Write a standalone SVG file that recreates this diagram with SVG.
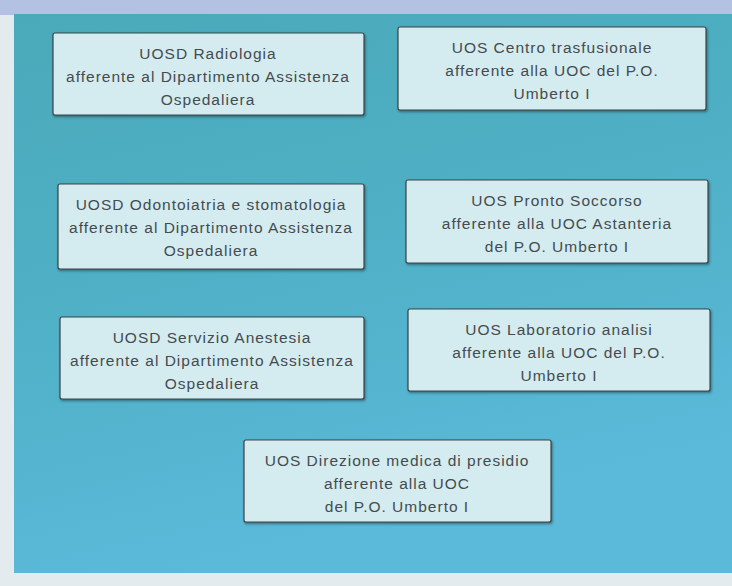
<svg xmlns="http://www.w3.org/2000/svg" width="732" height="586" viewBox="0 0 732 586">
<defs>
<linearGradient id="bg" x1="0" y1="0" x2="0.3" y2="1">
<stop offset="0" stop-color="#4aaab9"/>
<stop offset="0.5" stop-color="#4fb0c6"/>
<stop offset="1" stop-color="#5bbada"/>
</linearGradient>
<filter id="sh" x="-5%" y="-5%" width="110%" height="115%">
<feDropShadow dx="1" dy="1.5" stdDeviation="0.8" flood-color="#1a3a44" flood-opacity="0.6"/>
</filter>
</defs>
<style>
.box{fill:#d4ecf0;stroke:#3a4448;stroke-width:1.2;filter:url(#sh)}
.t{font-family:"Liberation Sans",Arial,sans-serif;font-size:15.5px;letter-spacing:1px;fill:#454b4e;text-anchor:middle}
</style>
<rect x="0" y="0" width="732" height="586" fill="#e3ebee"/>
<rect x="0" y="0" width="732" height="15" fill="#b3c2e2"/>
<rect x="14" y="14" width="718" height="559" fill="url(#bg)"/>
<g id="n1"><rect class="box" x="53" y="33" width="311" height="82" rx="2"/>
<text class="t" x="208" y="59">UOSD Radiologia</text>
<text class="t" x="208" y="82">afferente al Dipartimento Assistenza</text>
<text class="t" x="208" y="105">Ospedaliera</text></g>
<g id="n2"><rect class="box" x="398" y="27" width="308" height="83" rx="2"/>
<text class="t" x="552" y="53">UOS Centro trasfusionale</text>
<text class="t" x="552" y="76">afferente alla UOC del P.O.</text>
<text class="t" x="552" y="99">Umberto I</text></g>
<g id="n3"><rect class="box" x="58" y="184" width="306" height="85" rx="2"/>
<text class="t" x="211" y="210">UOSD Odontoiatria e stomatologia</text>
<text class="t" x="211" y="233">afferente al Dipartimento Assistenza</text>
<text class="t" x="211" y="256">Ospedaliera</text></g>
<g id="n4"><rect class="box" x="406" y="180" width="302" height="83" rx="2"/>
<text class="t" x="557" y="206">UOS Pronto Soccorso</text>
<text class="t" x="557" y="229">afferente alla UOC Astanteria</text>
<text class="t" x="557" y="252">del P.O. Umberto I</text></g>
<g id="n5"><rect class="box" x="60" y="317" width="304" height="82" rx="2"/>
<text class="t" x="212" y="343">UOSD Servizio Anestesia</text>
<text class="t" x="212" y="366">afferente al Dipartimento Assistenza</text>
<text class="t" x="212" y="389">Ospedaliera</text></g>
<g id="n6"><rect class="box" x="408" y="309" width="302" height="82" rx="2"/>
<text class="t" x="559" y="335">UOS Laboratorio analisi</text>
<text class="t" x="559" y="358">afferente alla UOC del P.O.</text>
<text class="t" x="559" y="381">Umberto I</text></g>
<g id="n7"><rect class="box" x="244" y="440" width="307" height="82" rx="2"/>
<text class="t" x="397" y="466">UOS Direzione medica di presidio</text>
<text class="t" x="397" y="489">afferente alla UOC</text>
<text class="t" x="397" y="512">del P.O. Umberto I</text></g>
<g id="connectors"></g>
</svg>
